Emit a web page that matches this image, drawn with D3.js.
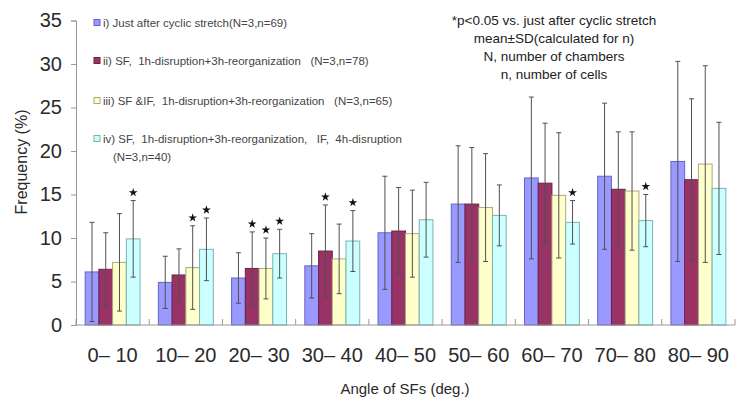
<!DOCTYPE html>
<html>
<head>
<meta charset="utf-8">
<script src="https://cdn.jsdelivr.net/npm/d3@7"></script>
<style>
  body { margin: 0; background: #fff; }
  text { font-family: "Liberation Sans", Arial, sans-serif; white-space: pre; }
</style>
</head>
<body>
<svg></svg>
<script>
let categories = ['0– 10', '10– 20', '20– 30', '30– 40', '40– 50', '50– 60', '60– 70', '70– 80', '80– 90']
let seriesNames = [
    'i) Just after cyclic stretch(N=3,n=69)',
    'ii) SF,  1h-disruption+3h-reorganization   (N=3,n=78)',
    'iii) SF &IF,  1h-disruption+3h-reorganization   (N=3,n=65)',
    'iv) SF,  1h-disruption+3h-reorganization,   IF,  4h-disruption'
]
let seriesExtra = ['', '', '', '(N=3,n=40)']

let means = [
    [6.1, 4.9, 5.4, 6.8, 10.6, 13.9, 16.9, 17.1, 18.8],
    [6.4, 5.75, 6.5, 8.5, 10.8, 13.9, 16.3, 15.6, 16.7],
    [7.2, 6.6, 6.5, 7.6, 10.5, 13.5, 14.9, 15.4, 18.5],
    [9.9, 8.7, 8.2, 9.65, 12.1, 12.6, 11.8, 12.0, 15.7]
]
let sds = [
    [5.7, 3.0, 2.9, 3.7, 6.5, 6.7, 9.3, 8.4, 11.5],
    [4.2, 3.0, 4.2, 5.3, 5.0, 6.5, 6.9, 6.6, 9.3],
    [5.6, 4.8, 3.5, 4.0, 5.0, 6.2, 7.2, 6.8, 11.3],
    [4.4, 3.6, 2.8, 3.5, 4.3, 3.5, 2.5, 3.0, 7.6]
]
// [category index, series index] marked p<0.05
let significant = [[0, 3], [1, 2], [1, 3], [2, 1], [2, 2], [2, 3], [3, 1], [3, 3], [6, 3], [7, 3]]

let yTicks = [0, 5, 10, 15, 20, 25, 30, 35]
let notes = [
    '*p<0.05 vs. just after cyclic stretch',
    'mean±SD(calculated for n)',
    'N, number of chambers',
    'n, number of cells'
]

let fills = ['#9999ff', '#993366', '#ffffcc', '#ccffff']
let strokes = ['#6464c8', '#6a2446', '#a8a880', '#7fb0b0']

let width = 747
let height = 403
let plotLeft = 76
let plotRight = 735
let plotTop = 20.5
let plotBottom = 325

let svg = d3.select('svg')
let xScale, xInner, yScale

let drawCanvas = () => {
    svg.attr('width', width)
    svg.attr('height', height)
}

let genScales = () => {
    xScale = d3.scaleBand()
        .domain(d3.range(categories.length))
        .range([plotLeft, plotRight])
        .paddingInner(0.25)
        .paddingOuter(0.125)

    xInner = d3.scaleBand()
        .domain(d3.range(means.length))
        .range([0, xScale.bandwidth()])

    yScale = d3.scaleLinear()
        .domain([0, 35])
        .range([plotBottom, plotTop])
}

let drawBars = () => {
    let rows = []
    means.forEach((s, si) => {
        s.forEach((v, ci) => {
            rows.push({ si: si, ci: ci, v: v, sd: sds[si][ci] })
        })
    })

    svg.append('g').selectAll('rect')
        .data(rows)
        .enter()
        .append('rect')
        .attr('x', (d) => xScale(d.ci) + xInner(d.si))
        .attr('y', (d) => yScale(d.v))
        .attr('width', xInner.bandwidth())
        .attr('height', (d) => plotBottom - yScale(d.v))
        .attr('fill', (d) => fills[d.si])
        .attr('stroke', (d) => strokes[d.si])
        .attr('stroke-width', 1)

    let err = svg.append('g')
        .attr('stroke', '#505050')
        .attr('stroke-width', 1)
    let cx = (d) => xScale(d.ci) + xInner(d.si) + xInner.bandwidth() / 2

    err.selectAll('line.v')
        .data(rows)
        .enter()
        .append('line')
        .attr('x1', cx).attr('x2', cx)
        .attr('y1', (d) => yScale(Math.max(0, d.v - d.sd)))
        .attr('y2', (d) => yScale(d.v + d.sd))

    err.selectAll('line.top')
        .data(rows)
        .enter()
        .append('line')
        .attr('x1', (d) => cx(d) - 2.5).attr('x2', (d) => cx(d) + 2.5)
        .attr('y1', (d) => yScale(d.v + d.sd))
        .attr('y2', (d) => yScale(d.v + d.sd))

    err.selectAll('line.bot')
        .data(rows)
        .enter()
        .append('line')
        .attr('x1', (d) => cx(d) - 2.5).attr('x2', (d) => cx(d) + 2.5)
        .attr('y1', (d) => yScale(Math.max(0, d.v - d.sd)))
        .attr('y2', (d) => yScale(Math.max(0, d.v - d.sd)))

    svg.append('g').selectAll('path')
        .data(significant)
        .enter()
        .append('path')
        .attr('d', d3.symbol().type(d3.symbolStar).size(24))
        .attr('fill', '#111')
        .attr('transform', (d) => {
            let x = xScale(d[0]) + xInner(d[1]) + xInner.bandwidth() / 2
            let y = yScale(means[d[1]][d[0]] + sds[d[1]][d[0]]) - 8
            return 'translate(' + x + ',' + y + ')'
        })
}

let genAxes = () => {
    let yAxis = d3.axisLeft(yScale).tickValues(yTicks).tickSize(5).tickPadding(9)
    let gy = svg.append('g')
        .attr('transform', 'translate(' + plotLeft + ',0)')
        .call(yAxis)
    gy.select('.domain').attr('stroke', '#999')
    gy.selectAll('.tick line').attr('stroke', '#999')
    gy.selectAll('.tick text')
        .style('font-size', '20px')
        .attr('fill', '#2a2a2a')
        .attr('font-family', '"Liberation Sans", Arial, sans-serif')

    // axis line along the bottom with inward ticks at category boundaries
    let bounds = d3.range(categories.length + 1).map((i) => plotLeft + i * xScale.step())
    let gx = svg.append('g')
    gx.append('line')
        .attr('x1', plotLeft).attr('x2', plotRight)
        .attr('y1', plotBottom).attr('y2', plotBottom)
        .attr('stroke', '#999')
    gx.selectAll('line.b')
        .data(bounds)
        .enter()
        .append('line')
        .attr('x1', (d) => d).attr('x2', (d) => d)
        .attr('y1', plotBottom).attr('y2', plotBottom - 6)
        .attr('stroke', '#999')
    gx.selectAll('text')
        .data(categories)
        .enter()
        .append('text')
        .attr('x', (d, i) => xScale(i) + xScale.bandwidth() / 2)
        .attr('y', 362)
        .attr('text-anchor', 'middle')
        .style('font-size', '20px')
        .attr('fill', '#2a2a2a')
        .text((d) => d)
}

let genTitles = () => {
    svg.append('text')
        .attr('x', 405)
        .attr('y', 394)
        .attr('text-anchor', 'middle')
        .style('font-size', '15px')
        .attr('fill', '#2a2a2a')
        .text('Angle of SFs (deg.)')

    svg.append('text')
        .attr('transform', 'translate(27,162) rotate(-90)')
        .attr('text-anchor', 'middle')
        .style('font-size', '16px')
        .attr('fill', '#2a2a2a')
        .text('Frequency (%)')
}

let genLegend = () => {
    let ys = [23, 61, 101, 139]
    let g = svg.append('g')
    seriesNames.forEach((name, i) => {
        g.append('rect')
            .attr('x', 94).attr('y', ys[i] - 3.5)
            .attr('width', 6).attr('height', 6)
            .attr('fill', fills[i])
            .attr('stroke', strokes[i])
        g.append('text')
            .attr('x', 103).attr('y', ys[i] + 4)
            .style('font-size', '11.5px')
            .attr('fill', '#444')
            .text(name)
        if (seriesExtra[i]) {
            g.append('text')
                .attr('x', 113).attr('y', ys[i] + 22)
                .style('font-size', '11.5px')
                .attr('fill', '#444')
                .text(seriesExtra[i])
        }
    })
}

let genNotes = () => {
    svg.append('g').selectAll('text')
        .data(notes)
        .enter()
        .append('text')
        .attr('x', 554)
        .attr('y', (d, i) => 25 + i * 18)
        .attr('text-anchor', 'middle')
        .style('font-size', '13.5px')
        .attr('fill', '#222')
        .text((d) => d)
}

drawCanvas()
genScales()
drawBars()
genAxes()
genTitles()
genLegend()
genNotes()
</script>
</body>
</html>
